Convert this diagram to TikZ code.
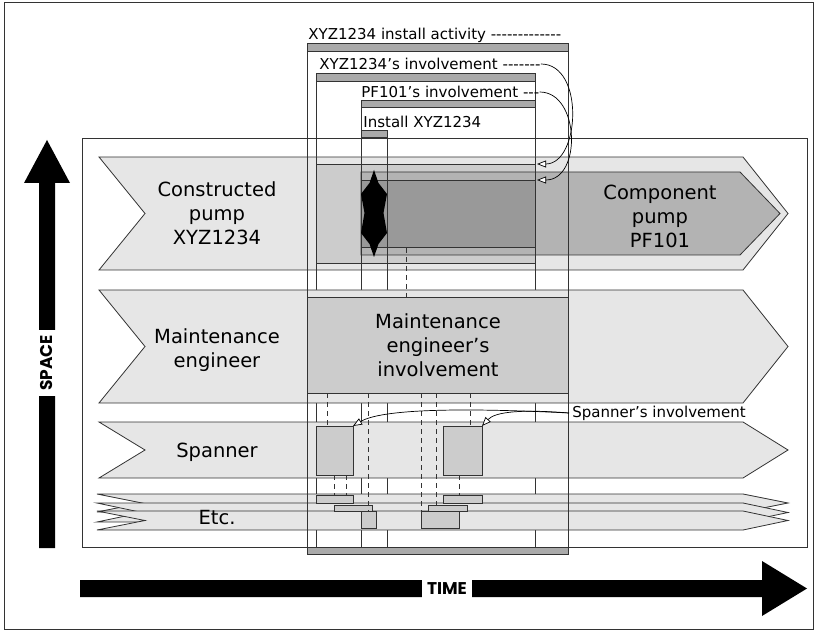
\documentclass[tikz,border=0pt]{standalone}
\usepackage{fontspec}
\setmainfont{DejaVu Sans}[Ligatures=TeXOff]
\newfontfamily\heavyfont{Poppins}
\usetikzlibrary{arrows.meta}
\definecolor{lanefill}{HTML}{E6E6E6}
\definecolor{invfill}{HTML}{CCCCCC}
\definecolor{compfill}{HTML}{B3B3B3}
\definecolor{pffill}{HTML}{999999}
\definecolor{barfill}{HTML}{AAAAAA}
\definecolor{linec}{HTML}{333333}
\begin{document}
\begin{tikzpicture}[x=1pt,y=-1pt,line width=0.8pt,
  ln/.style={draw=linec},
  lane/.style={draw=linec,fill=lanefill},
  inv/.style={draw=linec,fill=invfill},
  bar/.style={draw=linec,fill=barfill},
  dsh/.style={draw=linec,dash pattern=on 5pt off 4pt},
  big/.style={font=\fontsize{19.5}{24}\selectfont,align=center,inner sep=0pt},
  small/.style={font=\fontsize{15}{18}\selectfont,anchor=west,inner sep=0pt},
  arr/.style={draw=black,line width=0.7pt,-{Triangle[fill=white,length=9pt,width=7pt]}},
  axlabel/.style={font=\heavyfont\bfseries\fontsize{17}{17}\selectfont,fill=white,inner xsep=5pt,inner ysep=4pt}]
\useasboundingbox (0,0) rectangle (817,631);
% outer border
\draw[ln] (4,2) rectangle (813,629);
% inner involvement boxes (beneath lanes)
\draw[ln] (316,73) rectangle (535,547);
\draw[ln] (361,100) rectangle (535,547);
\draw[ln] (361,130) rectangle (387,547);
% main frame
\draw[ln] (82,138) rectangle (807,547);
% lanes
\draw[lane] (99,157) -- (743,157) -- (788,213.5) -- (743,270) -- (99,270) -- (145,213.5) -- cycle;
\draw[lane] (99,290) -- (743,290) -- (788,346.5) -- (743,403) -- (99,403) -- (145,346.5) -- cycle;
\draw[lane] (99,422) -- (743,422) -- (788,450) -- (743,478) -- (99,478) -- (145,450) -- cycle;
\draw[lane] (97,494) -- (743,494) -- (788,503) -- (743,512) -- (97,512) -- (142,503) -- cycle;
\draw[lane] (97,503) -- (743,503) -- (788,512.5) -- (743,522) -- (97,522) -- (142,512.5) -- cycle;
\draw[lane] (97,511) -- (743,511) -- (788,520.5) -- (743,530) -- (97,530) -- (145,520.5) -- cycle;
% lane 1 contents
\draw[ln] (316,157) -- (316,270) (361,157) -- (361,270) (387,157) -- (387,270) (535,157) -- (535,270);
\draw[inv] (316,164) rectangle (535,263);
\draw[ln,fill=compfill] (361,172) -- (740,172) -- (780,213.5) -- (740,255) -- (361,255) -- cycle;
\draw[ln,fill=pffill] (361,180) rectangle (535,247);
\draw[ln] (361,164) -- (361,263) (387,164) -- (387,263) (535,164) -- (535,263);
\fill[black] (374,170) -- (378.5,183) -- (387,194) -- (383.5,213) -- (387,233) -- (378.5,244) -- (374,257)
  -- (369.5,244) -- (361,233) -- (364.5,213) -- (361,194) -- (369.5,183) -- cycle;
% top bars
\draw[bar] (307,43) rectangle (568,51);
\draw[bar] (316,73) rectangle (535,81);
\draw[bar] (361,100) rectangle (535,107);
\draw[bar] (361,130) rectangle (387,137);
\draw[bar] (307,547) rectangle (568,554);
% lane 2
\draw[inv] (307,297) rectangle (568,393);
% lane 3 spanner boxes
\draw[inv] (316,426) rectangle (353,475);
\draw[inv] (443,426) rectangle (482,475);
\coordinate (sp1) at (353,426);
\coordinate (sp2) at (482,426);
% etc boxes
\draw[inv] (316,495) rectangle (353,503);
\draw[inv] (334,505) rectangle (372,511);
\draw[inv] (361,511) rectangle (376,528);
\draw[inv] (443,495) rectangle (482,503);
\draw[inv] (428,505) rectangle (467,511);
\draw[inv] (421,511) rectangle (459,528);
% install activity outline
\draw[ln] (307,43) rectangle (568,554);
% dashed links
\draw[dsh] (406,248) -- (406,297);
\draw[dsh] (327,393) -- (327,426);
\draw[dsh] (368,393) -- (368,511);
\draw[dsh] (421,393) -- (421,511);
\draw[dsh] (436,393) -- (436,505);
\draw[dsh] (470,393) -- (470,426);
\draw[dsh] (334,475) -- (334,495);
\draw[dsh] (346,475) -- (346,495);
\draw[dsh] (459,475) -- (459,495);
% lane labels
\node[big] (cp) at (217,213) {Constructed\\pump\\XYZ1234};
\node[big] (comp) at (660,216) {Component\\pump\\PF101};
\node[big] (me) at (217,350) {Maintenance\\engineer};
\node[big] (mei) at (438,345) {Maintenance\\engineer’s\\involvement};
\node[big] (sp) at (217,452) {Spanner};
\node[big] (etc) at (217,518) {Etc.};
% small labels
\node[small] (lblA) at (308,35) {XYZ1234 install activity -------------};
\node[small] (lblX) at (319,64) {XYZ1234’s involvement -------};
\node[small] (lblP) at (361,92) {PF101’s involvement ---};
\node[small] (lblI) at (363,122) {Install XYZ1234};
\node[small] (lblS) at (572,413) {Spanner’s involvement};
\coordinate (xinv) at (537,164);
\coordinate (pfinv) at (537,180);
\draw[arr] (lblX.east) .. controls (585,64) and (580,164) .. (xinv);
\draw[arr] (lblP.east) .. controls (580,92) and (582,180) .. (pfinv);
\draw[arr] ([xshift=-3pt]lblS.west) .. controls (450,407) and (380,410) .. (sp1);
\draw[arr] ([xshift=-3pt]lblS.west) .. controls (520,409) and (495,412) .. (sp2);
% axes
\fill[black] (39,548) -- (39,183) -- (24,183) -- (47,140) -- (70,183) -- (55,183) -- (55,548) -- cycle;
\node[axlabel,rotate=90] (space) at (47,363) {SPACE};
\fill[black] (80,580) -- (762,580) -- (762,561) -- (807,588.5) -- (762,616) -- (762,597) -- (80,597) -- cycle;
\node[axlabel] (time) at (447,588.5) {TIME};
\end{tikzpicture}
\end{document}
